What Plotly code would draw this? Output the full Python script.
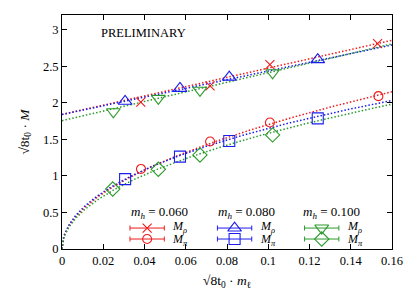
import numpy as np
import plotly.graph_objects as go

# ---- data ----
x_rho_060 = [0.0382, 0.0718, 0.1008, 0.1530]
y_rho_060 = [2.01, 2.23, 2.52, 2.81]
x_pi_060 = [0.0383, 0.0718, 0.1008, 0.1534]
y_pi_060 = [1.095, 1.47, 1.73, 2.09]

x_rho_080 = [0.0306, 0.0572, 0.0811, 0.1240]
y_rho_080 = [2.02, 2.196, 2.35, 2.59]
x_pi_080 = [0.0306, 0.0572, 0.0811, 0.1240]
y_pi_080 = [0.955, 1.263, 1.477, 1.787]

x_rho_100 = [0.0249, 0.0467, 0.0669, 0.1021]
y_rho_100 = [1.877, 2.06, 2.17, 2.41]
x_pi_100 = [0.0246, 0.0467, 0.0669, 0.1021]
y_pi_100 = [0.82, 1.09, 1.286, 1.56]

# fit parameters
# rho: M = a + b*x ; pi: M = c1*sqrt(x) + c2*x
rho_fit_a = [1.84, 1.84, 1.755]
rho_fit_b = [6.34, 5.94, 6.56]
pi_fit_c1 = [5.425, 5.76, 5.20]
pi_fit_c2 = [-0.125, -1.71, -0.62]

mh_labels = ["0.060", "0.080", "0.100"]
x_ticks = [0, 0.02, 0.04, 0.06, 0.08, 0.1, 0.12, 0.14, 0.16]
y_ticks = [0, 0.5, 1, 1.5, 2, 2.5, 3]

colors = ["#ee1c1c", "#1c1cee", "#2a9a2a"]
rho_symbols = ["x-thin-open", "triangle-up-open", "triangle-down-open"]
pi_symbols = ["circle-open", "square-open", "diamond-open"]
rho_sizes = [9, 12, 12]
pi_sizes = [9, 11, 11]

rho_x = [x_rho_060, x_rho_080, x_rho_100]
rho_y = [y_rho_060, y_rho_080, y_rho_100]
pi_x = [x_pi_060, x_pi_080, x_pi_100]
pi_y = [y_pi_060, y_pi_080, y_pi_100]

FONT = "Liberation Serif"
fig = go.Figure()

xs = np.linspace(0, 0.16, 400)
for i in range(3):
    fig.add_trace(go.Scatter(x=xs, y=rho_fit_a[i] + rho_fit_b[i] * xs, mode="lines",
                             line=dict(color=colors[i], width=1.5, dash="1.5px,2px"),
                             showlegend=False, hoverinfo="skip"))
    fig.add_trace(go.Scatter(x=xs, y=pi_fit_c1[i] * np.sqrt(xs) + pi_fit_c2[i] * xs, mode="lines",
                             line=dict(color=colors[i], width=1.5, dash="1.5px,2px"),
                             showlegend=False, hoverinfo="skip"))

for i in range(3):
    fig.add_trace(go.Scatter(x=rho_x[i], y=rho_y[i], mode="markers",
                             marker=dict(symbol=rho_symbols[i], size=rho_sizes[i],
                                         color=colors[i], line=dict(color=colors[i], width=1.1)),
                             showlegend=False))
    fig.add_trace(go.Scatter(x=pi_x[i], y=pi_y[i], mode="markers",
                             marker=dict(symbol=pi_symbols[i], size=pi_sizes[i],
                                         color=colors[i], line=dict(color=colors[i], width=1.1)),
                             showlegend=False))

# ---- legend drawn in an overlay axis with 0..1 coordinates ----
leg_marker_x = [0.258, 0.523, 0.787]
leg_label_x = [0.328, 0.594, 0.858]
leg_header_x = [0.294, 0.558, 0.818]
row_rho_y = 0.0895
row_pi_y = 0.0426
header_y = 0.158
half_len = 0.052

annotations = []
for i in range(3):
    for (yy, sym, sz) in [(row_rho_y, rho_symbols[i], rho_sizes[i]), (row_pi_y, pi_symbols[i], pi_sizes[i])]:
        fig.add_trace(go.Scatter(x=[leg_marker_x[i]], y=[yy], xaxis="x2", yaxis="y2", mode="markers",
                                 marker=dict(symbol=sym, size=sz, color=colors[i],
                                             line=dict(color=colors[i], width=1.1)),
                                 error_x=dict(type="data", array=[half_len], color=colors[i],
                                              thickness=1, width=2.5),
                                 showlegend=False, hoverinfo="skip"))
    annotations.append(dict(x=leg_header_x[i], y=header_y, xref="x2", yref="y2",
                            text="<i>m<sub>h</sub></i> = " + mh_labels[i], showarrow=False,
                            font=dict(family=FONT, size=13, color="black")))
    annotations.append(dict(x=leg_label_x[i], y=row_rho_y + 0.004, xref="x2", yref="y2", xanchor="left",
                            text="<i>M<sub>ρ</sub></i>", showarrow=False,
                            font=dict(family=FONT, size=12, color="black")))
    annotations.append(dict(x=leg_label_x[i], y=row_pi_y - 0.004, xref="x2", yref="y2", xanchor="left",
                            text="<i>M<sub>π</sub></i>", showarrow=False,
                            font=dict(family=FONT, size=12, color="black")))

annotations.append(dict(x=0.248, y=0.925, xref="x2", yref="y2", text="PRELIMINARY",
                        showarrow=False, font=dict(family=FONT, size=12.5, color="black")))
# x-axis title placed below the tick labels
annotations.append(dict(x=0.5, y=-0.137, xref="paper", yref="paper", yanchor="middle",
                        text="√8t<sub>0</sub> · <i>m</i><sub>ℓ</sub>", showarrow=False,
                        font=dict(family=FONT, size=13.5, color="black")))

axis_common = dict(showgrid=False, zeroline=False, showline=True, linecolor="black", linewidth=1,
                   ticks="inside", ticklen=5, tickcolor="black", mirror="allticks",
                   tickfont=dict(family=FONT, size=12.5, color="black"))

fig.update_layout(
    width=415, height=291,
    margin=dict(l=62, r=23, t=15, b=42),
    paper_bgcolor="white", plot_bgcolor="white",
    xaxis=dict(range=[0, 0.16], tickvals=x_ticks, ticktext=[("%g" % v) for v in x_ticks],
               automargin=False, **axis_common),
    yaxis=dict(range=[0, 3.2], tickvals=y_ticks, ticktext=[("%g" % v) for v in y_ticks],
               title=dict(text="√8t<sub>0</sub> · <i>M</i>", standoff=10,
                          font=dict(family=FONT, size=13.5, color="black")),
               automargin=False, **axis_common),
    xaxis2=dict(range=[0, 1], overlaying="x", visible=False, fixedrange=True),
    yaxis2=dict(range=[0, 1], overlaying="y", visible=False, fixedrange=True),
    annotations=annotations,
    showlegend=False,
)

fig.write_html("out.html", config={"displayModeBar": False},
               post_script="document.body.style.margin='0';document.body.style.overflow='hidden';")
